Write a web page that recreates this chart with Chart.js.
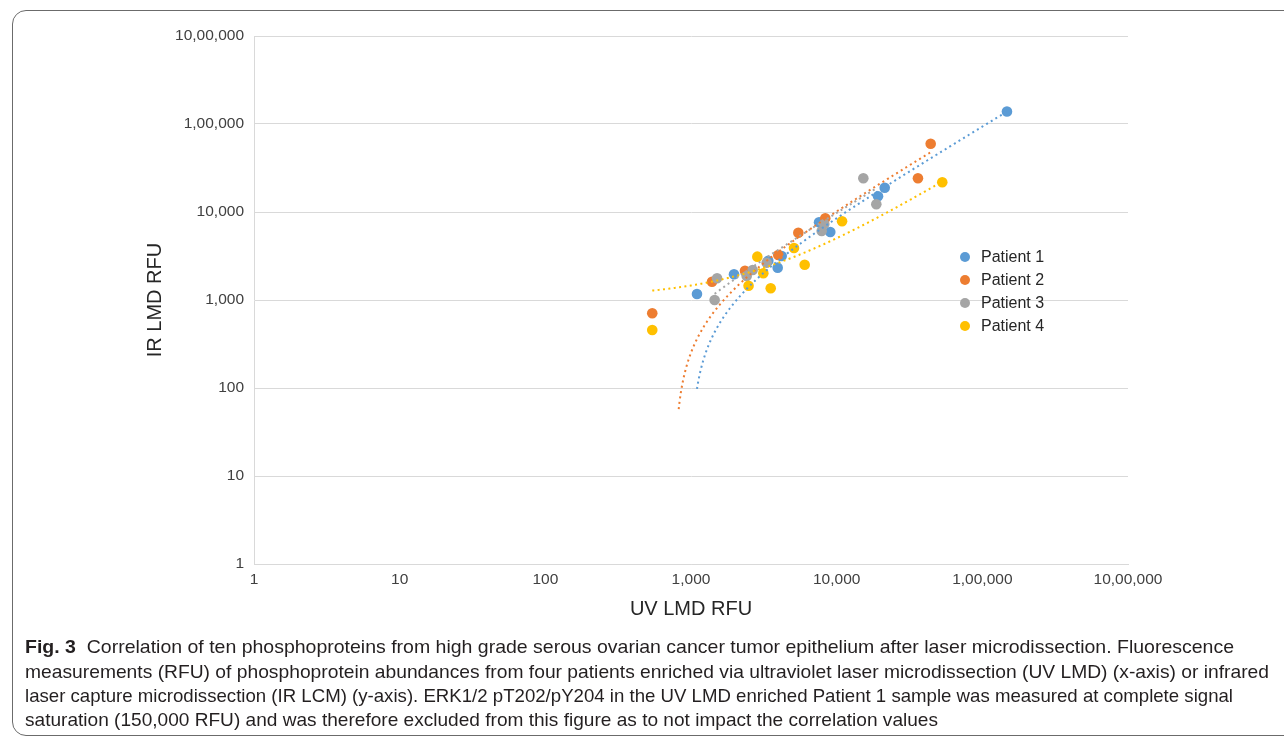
<!DOCTYPE html>
<html>
<head>
<meta charset="utf-8">
<script src="https://cdn.jsdelivr.net/npm/chart.js@4.4.1/dist/chart.umd.min.js"></script>
<style>
html,body{margin:0;padding:0;background:#fff;}
body{width:1284px;height:745px;position:relative;overflow:hidden;font-family:"Liberation Sans",Arial,sans-serif;}
#frame{position:absolute;left:12px;top:10px;width:1330px;height:726px;border:1px solid #6b6b6b;border-radius:14px;box-sizing:border-box;}
#chart{position:absolute;left:0;top:0;}
.cap{position:absolute;left:25px;white-space:nowrap;font-size:18.5px;line-height:24px;color:#231f20;transform-origin:0 50%;}
</style>
</head>
<body>
<div id="frame"></div>
<canvas id="chart" width="1284" height="644"></canvas>
<div class="cap" id="cap1" style="top:635px"><b>Fig. 3</b>&nbsp; Correlation of ten phosphoproteins from high grade serous ovarian cancer tumor epithelium after laser microdissection. Fluorescence</div>
<div class="cap" id="cap2" style="top:660px">measurements (RFU) of phosphoprotein abundances from four patients enriched via ultraviolet laser microdissection (UV LMD) (x-axis) or infrared</div>
<div class="cap" id="cap3" style="top:684px">laser capture microdissection (IR LCM) (y-axis). ERK1/2 pT202/pY204 in the UV LMD enriched Patient 1 sample was measured at complete signal</div>
<div class="cap" id="cap4" style="top:708px">saturation (150,000 RFU) and was therefore excluded from this figure as to not impact the correlation values</div>
<script>
// ---- data ----
const seriesNames = ['Patient 1', 'Patient 2', 'Patient 3', 'Patient 4'];
const patient1X = [1099, 1973, 3394, 4194, 3937, 7568, 9040, 19230, 21370, 147600];
const patient1Y = [1170, 1960, 2796, 3162, 2330, 7640, 5930, 15070, 18890, 138600];
const patient2X = [542, 1394, 2348, 3972, 5454, 8350, 36140, 44200];
const patient2Y = [706, 1614, 2153, 3246, 5820, 8480, 24150, 59700];
const patient3X = [1510, 1453, 2650, 2412, 3306, 7890, 8225, 15240, 18710];
const patient3Y = [1765, 1000, 2193, 1874, 2655, 6085, 7310, 24150, 12240];
const patient4X = [542, 2484, 2853, 3137, 3525, 5094, 6031, 10890, 53090];
const patient4Y = [456, 1454, 3107, 2011, 1358, 3900, 2518, 7840, 21770];
const tickValues = [1, 10, 100, 1000, 10000, 100000, 1000000];
const tickLabels = ['1', '10', '100', '1,000', '10,000', '1,00,000', '10,00,000'];
const xTitle = 'UV LMD RFU';
const yTitle = 'IR LMD RFU';

// ---- styling ----
const seriesColors = ['#5B9BD5', '#ED7D31', '#A5A5A5', '#FFC000'];
const trendFloor = 50;
const FONT = '"Liberation Sans", Arial, sans-serif';

const allX = [patient1X, patient2X, patient3X, patient4X];
const allY = [patient1Y, patient2Y, patient3Y, patient4Y];

// Linear least-squares trendline (as the spreadsheet's "linear" trendline), sampled for drawing
function linearTrend(xs, ys) {
  const n = xs.length;
  const mx = xs.reduce((a, b) => a + b, 0) / n;
  const my = ys.reduce((a, b) => a + b, 0) / n;
  let sxy = 0, sxx = 0;
  for (let i = 0; i < n; i++) { sxy += (xs[i] - mx) * (ys[i] - my); sxx += (xs[i] - mx) * (xs[i] - mx); }
  const m = sxy / sxx, b = my - m * mx;
  const lo = Math.min(...xs), hi = Math.max(...xs);
  const pts = [];
  const N = 400;
  for (let k = 0; k <= N; k++) {
    const x = Math.pow(10, Math.log10(lo) + (Math.log10(hi) - Math.log10(lo)) * k / N);
    const y = m * x + b;
    if (y >= trendFloor) pts.push({x, y});
  }
  return pts;
}

const datasets = [];
// trendlines drawn on top of markers (lower order = drawn later)
for (let i = 3; i >= 0; i--) {
  datasets.push({
    label: 'trend ' + seriesNames[i],
    data: linearTrend(allX[i], allY[i]),
    showLine: true,
    pointRadius: 0,
    borderColor: seriesColors[i],
    borderWidth: 2,
    borderDash: [2, 3.4],
    borderCapStyle: 'butt',
    fill: false,
    order: 4 - i
  });
}
for (let i = 0; i < 4; i++) {
  datasets.push({
    label: seriesNames[i],
    data: allX[i].map((x, j) => ({x, y: allY[i][j]})),
    showLine: false,
    pointRadius: 5.3,
    pointBorderWidth: 0,
    backgroundColor: seriesColors[i],
    borderColor: seriesColors[i],
    order: 20 - i
  });
}

const labelFor = v => { const k = tickValues.indexOf(v); return k >= 0 ? tickLabels[k] : ''; };

const legendPlugin = {
  id: 'customLegend',
  afterDraw(chart) {
    const ctx = chart.ctx;
    ctx.save();
    ctx.font = '16px ' + FONT;
    ctx.textBaseline = 'middle';
    ctx.textAlign = 'left';
    seriesNames.forEach((n, i) => {
      const y = 257 + i * 23;
      ctx.fillStyle = seriesColors[i];
      ctx.beginPath();
      ctx.arc(965, y, 5, 0, Math.PI * 2);
      ctx.fill();
      ctx.fillStyle = '#262626';
      ctx.fillText(n, 981, y + 1);
    });
    ctx.restore();
  }
};

Chart.defaults.font.family = FONT;

new Chart(document.getElementById('chart'), {
  type: 'scatter',
  data: { datasets },
  options: {
    responsive: false,
    animation: false,
    events: [],
    layout: { padding: { left: 0, top: 36, right: 156, bottom: 0 } },
    plugins: { legend: { display: false }, tooltip: { enabled: false } },
    scales: {
      x: {
        type: 'logarithmic', min: 1, max: 1000000,
        afterBuildTicks: s => { s.ticks = tickValues.map(v => ({value: v})); },
        afterFit: s => { s.height = 80; },
        ticks: { callback: v => labelFor(v), autoSkip: false, maxRotation: 0, padding: 6, color: '#404040', font: { size: 15.5 } },
        grid: { display: false, drawTicks: false },
        border: { display: true, color: '#d9d9d9', width: 1 },
        title: { display: true, text: xTitle, color: '#262626', font: { size: 20 }, padding: { top: 0, bottom: 23 } }
      },
      y: {
        type: 'logarithmic', min: 1, max: 1000000,
        afterBuildTicks: s => { s.ticks = tickValues.map(v => ({value: v})); },
        afterFit: s => { s.width = 254; },
        ticks: { callback: v => labelFor(v), autoSkip: false, padding: 10, color: '#404040', font: { size: 15.5 } },
        grid: { display: true, color: '#d9d9d9', lineWidth: 1, drawTicks: false },
        border: { display: true, color: '#d9d9d9', width: 1 },
        title: { display: true, text: yTitle, color: '#262626', font: { size: 20 }, padding: { top: 143, bottom: 0 } }
      }
    }
  },
  plugins: [legendPlugin]
});

// caption line widths
const capWidths = [1209, 1244, 1208, 913];
capWidths.forEach((w, i) => {
  const el = document.getElementById('cap' + (i + 1));
  const cur = el.getBoundingClientRect().width;
  if (cur > 0) el.style.transform = 'scaleX(' + (w / cur) + ')';
});
</script>
</body>
</html>
